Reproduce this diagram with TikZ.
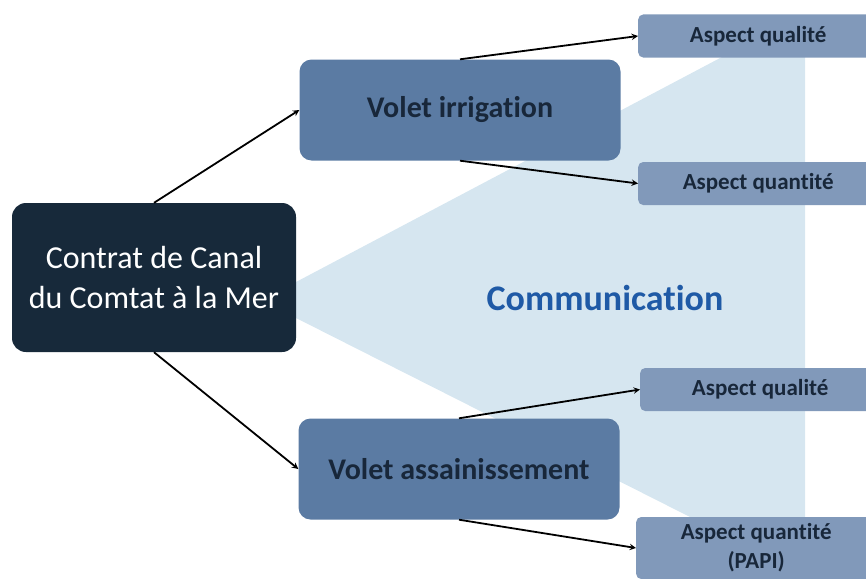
\documentclass[tikz,border=0pt]{standalone}
\usepackage{fontspec}
\setmainfont[Ligatures=NoCommon]{Carlito}
\usetikzlibrary{positioning}
\definecolor{darknavy}{HTML}{17293A}
\definecolor{voletblue}{HTML}{5B7BA3}
\definecolor{aspectblue}{HTML}{8199BA}
\definecolor{wedgeblue}{HTML}{D6E6F0}
\definecolor{textnavy}{HTML}{18273A}
\definecolor{commblue}{HTML}{1F5AA6}
\tikzset{
  mainbox/.style={fill=darknavy,text=white,rounded corners=14pt,minimum width=284pt,minimum height=149pt,align=center,font=\fontsize{32}{40}\selectfont},
  voletbox/.style={fill=voletblue,text=textnavy,rounded corners=12pt,minimum width=321pt,minimum height=101pt,font=\bfseries\fontsize{30}{36}\selectfont},
  aspectbox/.style={fill=aspectblue,text=textnavy,rounded corners=5pt,minimum width=240pt,minimum height=43pt,anchor=west,align=center,font=\bfseries\fontsize{23}{29}\selectfont},
}

\begin{document}
\begin{tikzpicture}[x=1pt,y=-1pt,>=stealth]
    \useasboundingbox (0,0) rectangle (866,578);
    \clip (0,0) rectangle (866,578);
    % light band behind the right side
    \fill[wedgeblue] (296,282) -- (722,57) -- (805,57) -- (805,518) -- (692,518) -- (296,318) -- cycle;
    \node[mainbox] at (154,277.5) (contrat) {Contrat de Canal\\du Comtat à la Mer};
    \node[voletbox] at (460,110) (irrig) {Volet irrigation};
    \node[voletbox] at (459,469) (assain) {Volet assainissement};
    \node[aspectbox] at (638,36) (qual1) {Aspect qualité};
    \node[aspectbox] at (638,183.5) (quant1) {Aspect quantité};
    \node[aspectbox] at (640,389.5) (qual2) {Aspect qualité};
    \node[aspectbox,minimum height=62pt] at (636,548) (quant2) {Aspect quantité\\(PAPI)};
    \node[text=commblue,font=\bfseries\fontsize{36}{40}\selectfont] at (605,298) (comm) {Communication};
    \draw[->,line width=1.8pt] (contrat.north) -- (irrig.west);
    \draw[->,line width=1.8pt] (contrat.south) -- (assain.west);
    \draw[->,line width=1.8pt] (irrig.north) -- (qual1.west);
    \draw[->,line width=1.8pt] (irrig.south) -- (quant1.west);
    \draw[->,line width=1.8pt] (assain.north) -- (qual2.west);
    \draw[->,line width=1.8pt] (assain.south) -- (quant2.west);
\end{tikzpicture}
\end{document}
